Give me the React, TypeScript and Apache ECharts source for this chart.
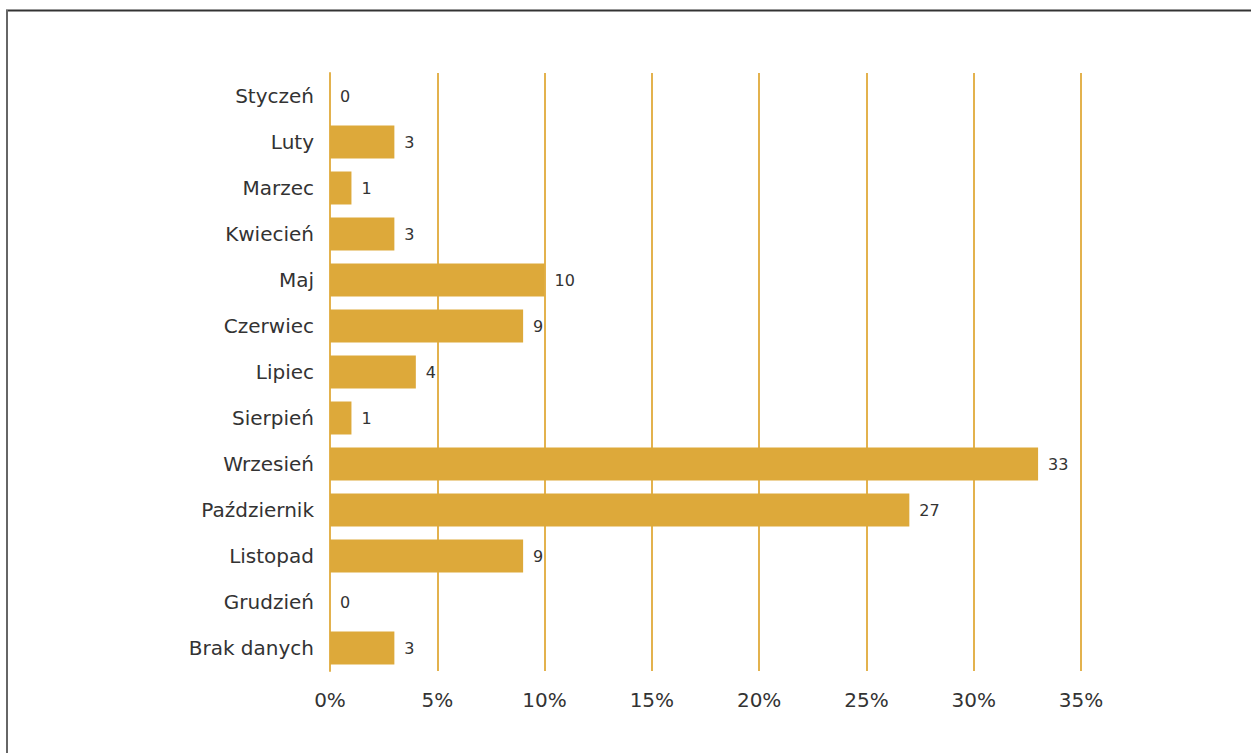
import React, { useEffect, useRef } from "react";
import * as echarts from "echarts";

const categories = [
  "Styczeń",
  "Luty",
  "Marzec",
  "Kwiecień",
  "Maj",
  "Czerwiec",
  "Lipiec",
  "Sierpień",
  "Wrzesień",
  "Październik",
  "Listopad",
  "Grudzień",
  "Brak danych",
];
const values = [0, 3, 1, 3, 10, 9, 4, 1, 33, 27, 9, 0, 3];
const xTicks = { min: 0, max: 35, interval: 5 };

const GOLD = "#DDA93A";
const FONT = "DejaVu Sans";

export default function App() {
  const ref = useRef<HTMLDivElement>(null);
  useEffect(() => {
    if (!ref.current) return;
    const chart = echarts.init(ref.current, undefined, { renderer: "svg" });
    chart.setOption({
      animation: false,
      backgroundColor: "#ffffff",
      grid: { left: 330, right: 170, top: 73, bottom: 82, containLabel: false },
      xAxis: {
        type: "value",
        min: xTicks.min,
        max: xTicks.max,
        interval: xTicks.interval,
        axisLine: { show: false },
        axisTick: { show: false },
        splitLine: { show: true, lineStyle: { color: "#E3B24E", width: 2 } },
        axisLabel: {
          formatter: "{value}%",
          color: "#333333",
          fontSize: 20,
          fontFamily: FONT,
          margin: 19,
        },
      },
      yAxis: {
        type: "category",
        data: categories,
        inverse: true,
        axisLine: { show: true, lineStyle: { color: "#E3B24E", width: 2 } },
        axisTick: { show: false },
        axisLabel: {
          color: "#333333",
          fontSize: 20,
          fontFamily: FONT,
          margin: 16,
        },
      },
      series: [
        {
          type: "bar",
          data: values,
          barWidth: 33,
          itemStyle: { color: GOLD },
          label: {
            show: true,
            position: "right",
            distance: 10,
            color: "#333333",
            fontSize: 16,
            fontFamily: FONT,
          },
        },
      ],
      graphic: [
        {
          type: "line",
          shape: { x1: 6, y1: 10.5, x2: 1251, y2: 10.5 },
          style: { stroke: "#333333", lineWidth: 2 },
        },
        {
          type: "line",
          shape: { x1: 7, y1: 10, x2: 7, y2: 753 },
          style: { stroke: "#666666", lineWidth: 2 },
        },
      ],
    });
    return () => chart.dispose();
  }, []);
  return (
    <div
      ref={ref}
      style={{ position: "fixed", left: 0, top: 0, width: 1251, height: 753 }}
    />
  );
}
